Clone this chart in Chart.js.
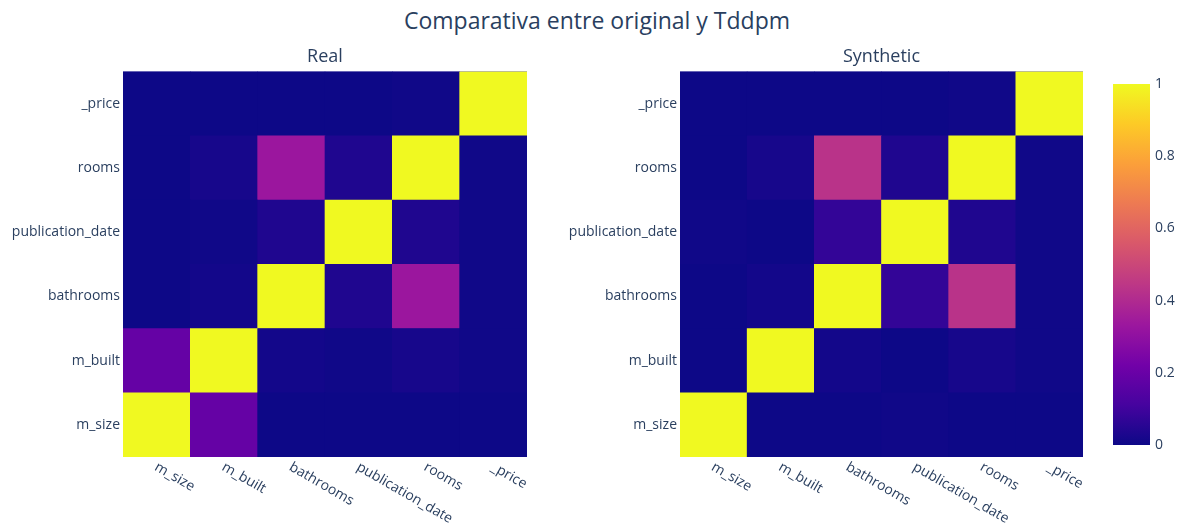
<!DOCTYPE html>
<html>
<head>
<meta charset="utf-8">
<script src="https://cdn.jsdelivr.net/npm/chart.js@4.4.1/dist/chart.umd.min.js"></script>
<style>
  body { margin: 0; background: #fff; }
  #wrap { position: relative; width: 1181px; height: 529px; overflow: hidden; }
  #mainTitle {
    position: absolute; left: 0; top: 5px; width: 1194px; text-align: center;
    font: 23px "Open Sans", sans-serif; color: #2a3f5f; line-height: 30px;
  }
  canvas { position: absolute; top: 0; }
</style>
</head>
<body>
<div id="wrap">
  <div id="mainTitle">Comparativa entre original y Tddpm</div>
  <canvas id="realChart" width="560" height="529" style="left:0"></canvas>
  <canvas id="synthChart" width="530" height="529" style="left:560px"></canvas>
  <canvas id="colorBar" width="91" height="529" style="left:1090px"></canvas>
</div>
<script>
// features, bottom row first (same order on both axes)
const features = ['m_size', 'm_built', 'bathrooms', 'publication_date', 'rooms', '_price'];

// correlation rows, one per feature (bottom to top)
const realCorr = [
  [1, 0.19, 0.0, 0.0, 0.0, 0.0],
  [0.19, 1, 0.012, 0.005, 0.02, 0.005],
  [0.0, 0.012, 1, 0.035, 0.33, 0.005],
  [0.0, 0.005, 0.035, 1, 0.035, 0.005],
  [0.0, 0.02, 0.33, 0.035, 1, 0.005],
  [0.0, 0.0, 0.0, 0.0, 0.005, 1]
];
const synthCorr = [
  [1, 0.0, 0.0, 0.005, 0.0, 0.0],
  [0.0, 1, 0.012, 0.0, 0.02, 0.005],
  [0.0, 0.012, 1, 0.075, 0.43, 0.005],
  [0.005, 0.0, 0.075, 1, 0.035, 0.005],
  [0.0, 0.02, 0.43, 0.035, 1, 0.005],
  [0.0, 0.0, 0.0, 0.0, 0.005, 1]
];
const colorTicks = [0, 0.2, 0.4, 0.6, 0.8, 1];

const plasmaStops = ['#0d0887', '#46039f', '#7201a8', '#9c179e', '#bd3786',
                     '#d8576b', '#ed7953', '#fb9f3a', '#fdca26', '#f0f921'];
const textColor = '#2a3f5f';
const fontFamily = '"Open Sans", sans-serif';

function hexToRgb(h) {
  return [1, 3, 5].map(i => parseInt(h.substr(i, 2), 16));
}

// value in [0,1] -> plasma colour
function plasma(v) {
  const t = Math.max(0, Math.min(1, v)) * (plasmaStops.length - 1);
  const i = Math.min(Math.floor(t), plasmaStops.length - 2);
  const f = t - i;
  const a = hexToRgb(plasmaStops[i]);
  const b = hexToRgb(plasmaStops[i + 1]);
  const c = a.map((x, k) => Math.round(x + (b[k] - x) * f));
  return 'rgb(' + c.join(',') + ')';
}

// fill the plot area first so no white seams show between cells
const areaFill = {
  id: 'areaFill',
  beforeDatasetsDraw(chart) {
    const a = chart.chartArea;
    chart.ctx.save();
    chart.ctx.fillStyle = plasmaStops[0];
    chart.ctx.fillRect(a.left, a.top, a.right - a.left, a.bottom - a.top);
    chart.ctx.restore();
  }
};

// x labels slanted downwards like plotly does
const slantedLabels = {
  id: 'slantedLabels',
  afterDraw(chart) {
    const xs = chart.scales.x;
    const ctx = chart.ctx;
    ctx.save();
    ctx.font = '14px ' + fontFamily;
    ctx.fillStyle = textColor;
    ctx.textAlign = 'left';
    ctx.textBaseline = 'middle';
    xs.getLabels().forEach((name, i) => {
      ctx.save();
      ctx.translate(xs.getPixelForValue(i) - 1, chart.chartArea.bottom + 9);
      ctx.rotate(Math.PI / 6);
      ctx.fillText(name, 0, 0);
      ctx.restore();
    });
    ctx.restore();
  }
};

function makeHeatmap(id, title, matrix, leftWidth, padRight) {
  const datasets = features.map((rowName, r) => ({
    label: rowName,
    data: features.map(() => [r, r + 1]),
    backgroundColor: matrix[r].map(plasma),
    borderWidth: 0,
    barPercentage: 1,
    categoryPercentage: 1,
    grouped: false
  }));

  return new Chart(document.getElementById(id), {
    type: 'bar',
    data: { labels: features, datasets: datasets },
    options: {
      responsive: false,
      animation: false,
      layout: { padding: { left: 0, right: padRight, top: 0, bottom: 0 } },
      plugins: {
        legend: { display: false },
        tooltip: { enabled: false },
        title: {
          display: true,
          text: title,
          fullSize: false,
          color: textColor,
          font: { family: fontFamily, size: 18, weight: 'normal' },
          padding: { top: 46, bottom: 4 }
        }
      },
      scales: {
        x: {
          type: 'category',
          offset: true,
          grid: { display: false, drawTicks: false },
          border: { display: false },
          ticks: { display: false },
          afterFit: s => { s.height = 72; }
        },
        y: {
          type: 'linear',
          min: 0,
          max: features.length,
          grid: { display: false, drawTicks: false },
          border: { display: false },
          afterBuildTicks: s => { s.ticks = features.map((_, i) => ({ value: i + 0.5 })); },
          ticks: {
            autoSkip: false,
            padding: 3,
            color: textColor,
            font: { family: fontFamily, size: 14 },
            callback: (v, i) => features[i]
          },
          afterFit: s => { s.width = leftWidth; }
        }
      }
    },
    plugins: [areaFill, slantedLabels]
  });
}

makeHeatmap('realChart', 'Real', realCorr, 123, 33);
makeHeatmap('synthChart', 'Synthetic', synthCorr, 120, 7);

// colour bar
new Chart(document.getElementById('colorBar'), {
  type: 'bar',
  data: {
    labels: [''],
    datasets: [{
      data: [[colorTicks[0], colorTicks[colorTicks.length - 1]]],
      borderWidth: 0,
      barPercentage: 1,
      categoryPercentage: 1,
      backgroundColor: ctx => {
        const chart = ctx.chart;
        if (!chart.chartArea) return plasmaStops[0];
        const ys = chart.scales.y;
        const g = chart.ctx.createLinearGradient(0, ys.getPixelForValue(0), 0, ys.getPixelForValue(1));
        plasmaStops.forEach((c, i) => g.addColorStop(i / (plasmaStops.length - 1), c));
        return g;
      }
    }]
  },
  options: {
    responsive: false,
    animation: false,
    layout: { padding: { left: 23, right: 0, top: 84, bottom: 84 } },
    plugins: { legend: { display: false }, tooltip: { enabled: false } },
    scales: {
      x: { display: false, offset: true },
      y: {
        position: 'right',
        min: 0,
        max: 1,
        grid: { display: false, drawTicks: false },
        border: { display: false },
        afterBuildTicks: s => { s.ticks = colorTicks.map(v => ({ value: v })); },
        ticks: {
          padding: 5,
          color: textColor,
          font: { family: fontFamily, size: 14 },
          callback: v => String(v)
        },
        afterFit: s => { s.width = 31; }
      }
    }
  }
});
</script>
</body>
</html>
